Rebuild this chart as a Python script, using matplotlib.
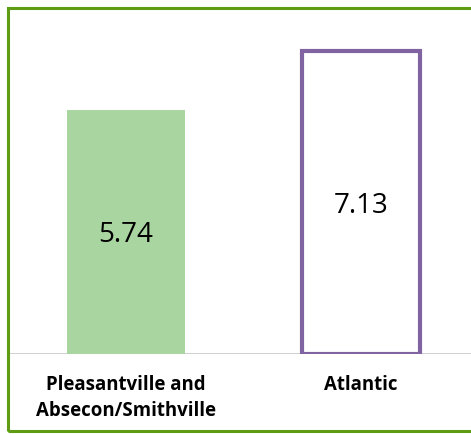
import matplotlib
matplotlib.use("Agg")
import matplotlib.pyplot as plt
from matplotlib.patches import Rectangle

categories = ["Pleasantville and\nAbsecon/Smithville", "Atlantic"]
values = [5.74, 7.13]
value_labels = ["5.74", "7.13"]

W, H = 471, 434
fig = plt.figure(figsize=(W / 100, H / 100), dpi=100)

# axes runs off the right edge, like the source crop
ax = fig.add_axes([8 / W, 80 / H, 471 / W, 340 / H])
x = range(len(categories))
ax.bar(x[0], values[0], width=0.5, color="#a9d5a0", edgecolor="none")
ax.bar(x[1], values[1], width=0.5, color="white", edgecolor="#8064a2", linewidth=3)
ax.set_xlim(-0.5, 1.5)
ax.set_ylim(0, 8)
ax.axhline(0, color="#c8c8c8", lw=1.2, zorder=0)
for s in ax.spines.values():
    s.set_visible(False)
ax.set_yticks([])
ax.set_xticks(list(x))
ax.set_xticklabels(categories, fontsize=13.4, fontweight="bold", family="Open Sans",
                   linespacing=1.4)
ax.tick_params(axis="x", length=0, pad=15)

# value labels: baseline half a cap height below the bar middle
for xi, v, lab in zip(x, values, value_labels):
    ax.annotate(lab, (xi, v / 2), xytext=(0, -7.5), textcoords="offset points",
                ha="center", va="baseline", fontsize=20, family="Open Sans")

border = Rectangle((7.5 / W, 3 / H), 2, (H - 11) / H, transform=fig.transFigure,
                   fill=False, edgecolor="#5f9c14", linewidth=2.2)
fig.patches.append(border)

fig.savefig("out.png", dpi=100)
